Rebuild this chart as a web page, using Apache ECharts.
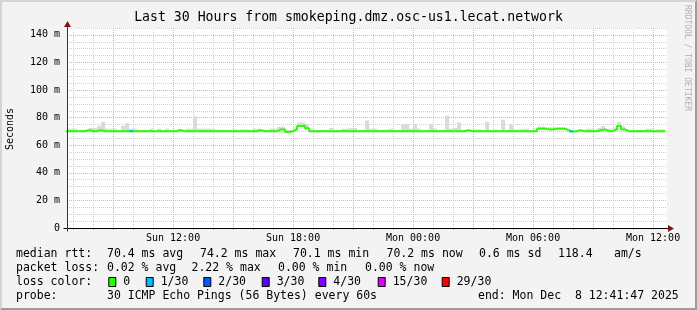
<!DOCTYPE html>
<html><head><meta charset="utf-8">
<script src="https://cdn.jsdelivr.net/npm/echarts@6/dist/echarts.min.js"></script>
<style>
html,body{margin:0;padding:0;background:#f3f3f3;}
#wrap{position:relative;width:697px;height:310px;overflow:hidden;}
#chart{width:697px;height:310px;}
#frame{position:absolute;left:0;top:0;width:697px;height:310px;box-sizing:border-box;border:2px solid;border-color:#d4d4d4 #9c9c9c #9c9c9c #d4d4d4;pointer-events:none;}
</style></head><body>
<div id="wrap"><div id="chart"></div><div id="frame"></div></div>
<script>
// ---- data ----
const START_HOUR = 6.6;      // first 12-minute bucket (Sun 06:36), hours since Sun 00:00
const STEP_HOURS = 0.2;      // 12-minute consolidation step
const VIEW_START = 6 + 41/60 + 47/3600;   // Sun 06:41:47
const VIEW_END = VIEW_START + 30;          // Mon 12:41:47

const median = [
70.2,70.2,70.2,70.2,70.2,70.9,70.2,70.2,70.9,70.2,
70.2,70.2,70.2,70.2,70.2,70.2,70.2,70.2,70.2,70.2,
70.2,70.2,70.2,70.2,70.2,70.2,70.2,70.2,70.9,70.2,
70.2,70.2,70.2,70.2,70.2,70.2,70.2,70.2,70.2,70.2,
70.2,70.2,70.2,70.2,70.2,70.2,70.2,70.2,70.9,70.2,
70.2,70.2,70.2,71.4,71.4,69.6,70.2,71.5,74.0,74.2,
72.3,70.2,70.2,70.2,70.2,70.2,70.2,70.2,70.2,70.2,
70.2,70.2,70.2,70.2,70.2,70.2,70.2,70.2,70.2,70.2,
70.2,70.2,70.2,70.2,70.2,70.2,70.2,70.2,70.2,70.2,
70.2,70.2,70.2,70.2,70.2,70.2,70.2,70.2,70.2,70.2,
70.8,70.2,70.2,70.2,70.2,70.2,70.2,70.2,70.2,70.2,
70.2,70.2,70.2,70.2,70.2,70.2,70.2,70.2,72.0,72.0,
71.5,71.5,72.0,72.0,72.0,70.8,70.0,70.2,70.9,70.2,
70.2,70.2,70.2,70.9,71.5,70.2,70.4,71.5,74.0,71.5,
70.2,70.2,70.2,70.2,70.2,70.2,70.2,70.2,70.2,70.2
];
const smokeMax = [
72,72,72,71,71,71.5,72.5,72.5,74,77,
72,72,72,71,74,76,72,72,71,71,
71,72,71,72,71,72,71,71,72,71,
72,72,81,72,72,72,72,71.5,71,71,
71,71,71.5,71,71.5,71.5,71,72,72,71,
71,72,72,73.5,73.5,71,71,73,76.5,76.5,
75,71,71,71,71,71,72.5,71,71,72,
72,72.5,72.5,71,71,78,72,72,71,71,
71.5,72,71,71,75,75.5,72,75,72,71,
71,75.5,72,71,71,81.5,72,72.5,76.5,71,
71.5,71,71.5,71.5,71,77,71,71.5,71,78.5,
71,75,71.5,71.5,72,72,71,71,73.5,73.5,
73,73,73,73,73,72,71,71,71.5,71,
72,72,71.5,72.5,74,72,72,73,77,74,
71,71,71,71,71,72,72,71,71.5,71.5
];
// pings lost (out of 30) per step
const loss = [
0,0,0,0,0,0,0,0,0,0,
0,0,0,0,0,0,0.67,0,0,0,
0,0,0,0,0,0,0,0,0,0,
0,0,0,0,0,0,0,0,0,0,
0,0,0,0,0,0,0,0,0,0,
0,0,0,0,0,0,0,0,0,0,
0,0,0,0,0,0,0,0,0,0,
0,0,0,0,0,0,0,0,0,0,
0,0,0,0,0,0,0,0,0,0,
0,0,0,0,0,0,0,0,0,0,
0,0,0,0,0,0,0,0,0,0,
0,0,0,0,0,0,0,0,0,0,
0,0,0,0,0,0,0.67,0,0,0,
0,0,0,0,0,0,0,0,0,0,
0,0,0,0,0,0,0,0,0,0
];
const yTickValues = [0,20,40,60,80,100,120,140];
const xTickHours = [12,18,24,30,36];
const xTickLabels = ['Sun 12:00','Sun 18:00','Mon 00:00','Mon 06:00','Mon 12:00'];
const lossLegend = ['0','1/30','2/30','3/30','4/30','15/30','29/30'];
const lossThresholds = [0,1,2,3,4,15,29];
const lossColors = ['#26ff00','#00b8ff','#0059ff','#5e00ff','#7e00ff','#dd00ff','#ff0000'];
const statRows = [
  ['median rtt:', '70.4 ms avg', '74.2 ms max', '70.1 ms min', '70.2 ms now', '0.6 ms sd', '118.4', 'am/s'],
  ['packet loss:', '0.02 % avg', '2.22 % max', '0.00 % min', '0.00 % now'],
  ['loss color:'],
  ['probe:', '30 ICMP Echo Pings (56 Bytes) every 60s', 'end: Mon Dec  8 12:41:47 2025']
];
const titleText = 'Last 30 Hours from smokeping.dmz.osc-us1.lecat.network';

// ---- layout (positions only) ----
const FONT = '"DejaVu Sans Mono", monospace';
const statX = [
  [16, 107, 200, 293, 386.5, 479, 558, 614],
  [16, 107, 191.5, 278, 365],
  [16],
  [16, 107, 478]
];
const statY = [254, 268, 282, 296];
const legendLabelX = [123.3, 160.7, 218.3, 276.7, 333.3, 392.7, 456.7];

// ---- build ----
const times = median.map((_, i) => START_HOUR + STEP_HOURS * i);
const endT = START_HOUR + STEP_HOURS * median.length;
const withEnd = arr => arr.map((v, i) => [times[i], v]).concat([[endT, arr[arr.length - 1]]]);

function lossColor(l) {
  if (!l) return lossColors[0];
  const c = Math.ceil(l);
  let k = 1;
  for (let j = 1; j < lossThresholds.length; j++) if (lossThresholds[j] <= c) k = j;
  return lossColors[k];
}

const hourTicks = [];
for (let h = Math.ceil(VIEW_START); h <= Math.floor(VIEW_END); h++) hourTicks.push(h);

const GRAY = '#cfcfcf', RED = '#f2a3a3';

const smokeData = median.map((m, i) => [times[i], times[i] + STEP_HOURS, m, smokeMax[i]]);

const series = [
  { type: 'custom', name: 'smoke', data: smokeData, silent: true, z: 2, clip: true,
    encode: { x: [0, 1], y: [2, 3] },
    renderItem: function (params, api) {
      const a = api.coord([api.value(0), api.value(3)]);
      const b = api.coord([api.value(1), api.value(2)]);
      const cs = params.coordSys;
      const x1 = Math.max(a[0], cs.x), x2 = Math.min(b[0], cs.x + cs.width);
      if (x2 <= x1) return null;
      return { type: 'rect', shape: { x: x1, y: a[1], width: x2 - x1, height: b[1] - a[1] },
        style: { fill: '#dadada' } };
    } },
  { type: 'line', name: 'median', data: withEnd(median), step: 'end', showSymbol: false,
    silent: true, lineStyle: { color: lossColors[0], width: 2 }, z: 4 }
];
loss.forEach((l, i) => {
  if (l > 0) {
    series.push({ type: 'line', data: [[times[i], median[i]], [times[i] + STEP_HOURS, median[i]]],
      showSymbol: false, silent: true, lineStyle: { color: lossColor(l), width: 2 }, z: 5 });
  }
});

const chart = echarts.init(document.getElementById('chart'), null, { renderer: 'canvas' });
const option = {
  animation: false,
  backgroundColor: '#f3f3f3',
  grid: { left: 67, top: 28, width: 600, height: 200, show: true, backgroundColor: '#ffffff', borderWidth: 0 },
  xAxis: {
    type: 'value', min: VIEW_START, max: VIEW_END,
    axisLine: { show: true, onZero: false, lineStyle: { color: '#000', width: 1 } },
    axisTick: { show: true, customValues: hourTicks, length: 2, lineStyle: { color: '#d9a0a0' } },
    axisLabel: { customValues: xTickHours, margin: 5, color: '#000', fontFamily: FONT, fontSize: 10,
      formatter: v => xTickLabels[xTickHours.indexOf(Math.round(v))] || '' },
    splitLine: { show: true, lineStyle: { color: [GRAY, GRAY, RED], width: 1, type: [1, 1] } }
  },
  yAxis: {
    type: 'value', min: 0, max: 145, interval: 5,
    axisLine: { show: true, lineStyle: { color: '#333', width: 1 } },
    axisTick: { show: false },
    axisLabel: { customValues: yTickValues, margin: 7, color: '#000', fontFamily: FONT, fontSize: 10,
      formatter: v => (v === 0 ? '0' : v + ' m') },
    splitLine: { show: true, lineStyle: { color: [RED, GRAY, GRAY, GRAY], width: 1, type: [1, 1] } }
  },
  series: series
};
chart.setOption(option);

// decorations: title, axis name, watermark, legend
const p0 = chart.convertToPixel({ gridIndex: 0 }, [VIEW_START, 0]);
const p1 = chart.convertToPixel({ gridIndex: 0 }, [VIEW_END, 145]);
const x0 = Math.round(p0[0]) + 0.5, y0 = Math.round(p0[1]) + 0.5;
const xR = Math.round(p1[0]), yT = Math.round(p1[1]);
const ARROW = '#7f1414';
const g = [];
g.push({ type: 'text', left: 'center', top: 11, style: { text: titleText, font: '13.2px ' + FONT, fill: '#000' } });
g.push({ type: 'text', x: 10.5, y: 129, rotation: Math.PI / 2,
  style: { text: 'Seconds', font: '10px ' + FONT, fill: '#000', align: 'center', verticalAlign: 'middle' } });
g.push({ type: 'text', x: 687, y: 5, rotation: -Math.PI / 2,
  style: { text: 'RRDTOOL / TOBI OETIKER', font: '8px ' + FONT, fill: '#b0b0b0', align: 'left', verticalAlign: 'middle' } });
// axis extensions and arrows
g.push({ type: 'line', shape: { x1: x0 - 4, y1: y0, x2: xR + 3, y2: y0 }, style: { stroke: '#000', lineWidth: 1 }, z: 10 });
g.push({ type: 'line', shape: { x1: x0, y1: y0 + 3, x2: x0, y2: yT - 3 }, style: { stroke: '#333', lineWidth: 1 }, z: 10 });
g.push({ type: 'polygon', shape: { points: [[xR + 1, y0 - 3.5], [xR + 7, y0], [xR + 1, y0 + 3.5]] }, style: { fill: ARROW }, z: 10 });
g.push({ type: 'polygon', shape: { points: [[x0 - 3.5, yT - 1], [x0, yT - 7], [x0 + 3.5, yT - 1]] }, style: { fill: ARROW }, z: 10 });
// stats text
statRows.forEach((row, r) => {
  row.forEach((txt, k) => {
    g.push({ type: 'text', x: statX[r][k], y: statY[r],
      style: { text: txt, font: '11.5px ' + FONT, fill: '#000', verticalAlign: 'middle' } });
  });
});
lossLegend.forEach((lab, k) => {
  const lx = legendLabelX[k];
  g.push({ type: 'rect', shape: { x: lx - 14.5, y: statY[2] - 4.5, width: 7, height: 9 },
    style: { fill: lossColors[k], stroke: '#000', lineWidth: 1 } });
  g.push({ type: 'text', x: lx, y: statY[2],
    style: { text: lab, font: '11.5px ' + FONT, fill: '#000', verticalAlign: 'middle' } });
});
chart.setOption({ graphic: g });
</script>
</body></html>
